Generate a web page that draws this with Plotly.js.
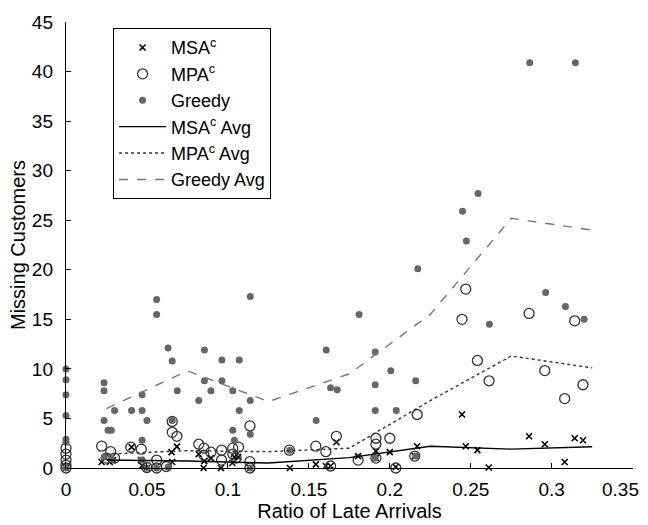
<!DOCTYPE html>
<html>
<head>
<meta charset="utf-8">
<script src="https://cdn.plot.ly/plotly-3.0.1.min.js"></script>
<style>html,body{margin:0;padding:0;background:#fff;}#chart{width:648px;height:525px;}</style>
</head>
<body>
<div id="chart"></div>
<script>
// MSA^c individual results
const msaX = [0, 0.022, 0.027, 0.029, 0.0405, 0.0463, 0.047, 0.050, 0.0652, 0.0685, 0.0656, 0.082, 0.0854, 0.085, 0.0895, 0.0957, 0.1027, 0.104, 0.1064, 0.1138, 0.1383, 0.1543, 0.1605, 0.1634, 0.167, 0.1804, 0.1914, 0.1914, 0.200, 0.2037, 0.2154, 0.2169, 0.2446, 0.2469, 0.2541, 0.2611, 0.286, 0.2957, 0.308, 0.3142, 0.3193];
const msaY = [0, 0.6, 0.6, 0.8, 2.1, 0.8, 0.23, 0, 1.6, 2.15, 0.6, 1.4, 0.7, 0, 1.0, 0, 0.5, 1.1, 1.1, 0, 0, 0.37, 0.2, 0.2, 2.6, 1.2, 1.7, 1.0, 1.6, 0.1, 1.2, 2.2, 5.4, 2.2, 1.8, 0.05, 3.2, 2.4, 0.6, 3.0, 2.8];

// MPA^c individual results
const mpaX = [0, 0, 0, 0, 0, 0.022, 0.0276, 0.025, 0.030, 0.040, 0.0465, 0.0656, 0.0656, 0.0685, 0.056, 0.062, 0.056, 0.050, 0.082, 0.0852, 0.0852, 0.0895, 0.0961, 0.0961, 0.103, 0.103, 0.1066, 0.105, 0.1136, 0.1136, 0.1136, 0.138, 0.1543, 0.1605, 0.167, 0.1634, 0.1804, 0.1914, 0.1914, 0.1914, 0.200, 0.2037, 0.2154, 0.2169, 0.2446, 0.2469, 0.2541, 0.2613, 0.286, 0.2957, 0.308, 0.3142, 0.3193];
const mpaY = [2.0, 1.4, 0.8, 0.3, 0, 2.2, 1.65, 1.0, 1.0, 2.1, 1.9, 4.7, 3.6, 3.2, 0.8, 0.15, 0, 0.05, 2.4, 2.0, 1.3, 1.6, 1.8, 0.8, 2.0, 1.4, 2.1, 1.0, 4.25, 0.64, 0, 1.8, 2.2, 1.65, 3.2, 0.2, 0.8, 3.0, 2.4, 1.0, 3.0, 0, 1.2, 5.4, 15.0, 18.05, 10.85, 8.8, 15.6, 9.83, 7.0, 14.85, 8.4];

// Greedy individual results
const greedyX = [0, 0, 0, 0, 0, 0, 0, 0.0235, 0.0235, 0.0235, 0.0235, 0.026, 0.028, 0.028, 0.030, 0.0405, 0.047, 0.047, 0.047, 0.047, 0.050, 0.050, 0.056, 0.056, 0.056, 0.063, 0.063, 0.0656, 0.0656, 0.0687, 0.082, 0.0855, 0.0855, 0.0895, 0.0963, 0.0963, 0.103, 0.103, 0.104, 0.107, 0.107, 0.1138, 0.1138, 0.1138, 0.1138, 0.1383, 0.1545, 0.1607, 0.1634, 0.1675, 0.181, 0.191, 0.191, 0.191, 0.191, 0.2006, 0.204, 0.216, 0.216, 0.2173, 0.2449, 0.2473, 0.2545, 0.2615, 0.2864, 0.2963, 0.3085, 0.3146, 0.320];
const greedyY = [10, 8.9, 7.4, 5.3, 2.9, 2.6, 0, 8.6, 7.8, 4.8, 1.1, 3.8, 3.8, 0.9, 5.8, 5.8, 5.8, 7.4, 2.8, 0.8, 0, 4.8, 17.0, 15.5, 0, 12.1, 0.1, 10.8, 4.8, 7.8, 6.8, 11.9, 8.8, 7.8, 10.9, 8.8, 7.8, 3.8, 2.8, 10.9, 5.8, 17.3, 6.8, 3.4, 0, 1.8, 4.8, 11.9, 8.1, 7.9, 15.5, 11.7, 8.4, 5.8, 1.0, 9.8, 5.8, 8.8, 1.2, 20.1, 25.9, 22.9, 27.7, 14.5, 40.9, 17.7, 16.3, 40.9, 15.0];

// Bin averages
const binX = [0.025, 0.075, 0.125, 0.175, 0.225, 0.275, 0.325];
const msaAvg = [0.8, 0.7, 0.5, 1.05, 2.2, 1.9, 2.15];
const mpaAvg = [1.4, 1.75, 1.65, 2.0, 6.8, 11.3, 10.1];
const greedyAvg = [6.0, 9.8, 6.7, 9.5, 15.5, 25.2, 24.0];

// Axis ticks; the last x label is right-aligned at its tick (as in the reference) so it stays inside the page
const xTicks = [0, 0.05, 0.1, 0.15, 0.2, 0.25, 0.3, 0.35];
const xTickText = ['0', '0.05', '0.1', '0.15', '0.2', '0.25', '0.3', ''];
const xLastLabel = '0.35';
const yTicks = [0, 5, 10, 15, 20, 25, 30, 35, 40, 45];

const FONT = 'Liberation Sans, Arial, Helvetica, sans-serif';

const traces = [
  {x: msaX, y: msaY, mode: 'markers', type: 'scatter', name: 'MSA<sup>c</sup>', cliponaxis: false,
   marker: {symbol: 'x-thin-open', size: 6, color: '#000', line: {color: '#000', width: 1.6}}},
  {x: mpaX, y: mpaY, mode: 'markers', type: 'scatter', name: 'MPA<sup>c</sup>', cliponaxis: false,
   marker: {symbol: 'circle-open', size: 10, color: '#333', line: {color: '#333', width: 1.3}}},
  {x: greedyX, y: greedyY, mode: 'markers', type: 'scatter', name: 'Greedy', cliponaxis: false,
   marker: {symbol: 'circle', size: 7, color: '#666'}},
  {x: binX, y: msaAvg, mode: 'lines', type: 'scatter', name: 'MSA<sup>c</sup> Avg',
   line: {color: '#000', width: 1.4, dash: 'solid'}},
  {x: binX, y: mpaAvg, mode: 'lines', type: 'scatter', name: 'MPA<sup>c</sup> Avg',
   line: {color: '#333', width: 1.4, dash: 'dot'}},
  {x: binX, y: greedyAvg, mode: 'lines', type: 'scatter', name: 'Greedy Avg',
   line: {color: '#777', width: 1.4, dash: 'dash'}}
];

const layout = {
  width: 648, height: 525,
  margin: {l: 66, r: 15, t: 22, b: 57},
  paper_bgcolor: '#fff', plot_bgcolor: '#fff',
  font: {family: FONT, size: 19, color: '#000'},
  showlegend: true,
  legend: {x: 0.083, y: 0.986, xanchor: 'left', yanchor: 'top',
           bgcolor: '#fff', bordercolor: '#000', borderwidth: 1,
           font: {family: FONT, size: 18, color: '#000'}, itemwidth: 47},
  xaxis: {range: [0, 0.3502], tickmode: 'array', tickvals: xTicks, ticktext: xTickText,
          ticks: 'inside', ticklen: 5, tickwidth: 1,
          tickcolor: '#000', showline: true, linecolor: '#000', linewidth: 1.2,
          showgrid: false, zeroline: false, ticklabelstandoff: 4,
          tickfont: {family: FONT, size: 19, color: '#000'},
          title: {text: 'Ratio of Late Arrivals', font: {family: FONT, size: 20, color: '#000'}, standoff: 0}},
  yaxis: {range: [0, 45], tickmode: 'array', tickvals: yTicks,
          ticks: 'inside', ticklen: 5, tickwidth: 1,
          tickcolor: '#000', showline: true, linecolor: '#000', linewidth: 1.2,
          showgrid: false, zeroline: false, ticklabelstandoff: 8,
          tickfont: {family: FONT, size: 19, color: '#000'},
          title: {text: 'Missing Customers', font: {family: FONT, size: 20, color: '#000'}, standoff: 0}},
  annotations: [
    {text: xLastLabel, xref: 'x', x: xTicks[xTicks.length - 1], yref: 'paper', y: 0,
     xanchor: 'right', yanchor: 'top', xshift: 8, yshift: -9, showarrow: false,
     font: {family: FONT, size: 19, color: '#000'}}
  ]
};

Plotly.newPlot('chart', traces, layout, {displayModeBar: false, staticPlot: true});
</script>
</body>
</html>
